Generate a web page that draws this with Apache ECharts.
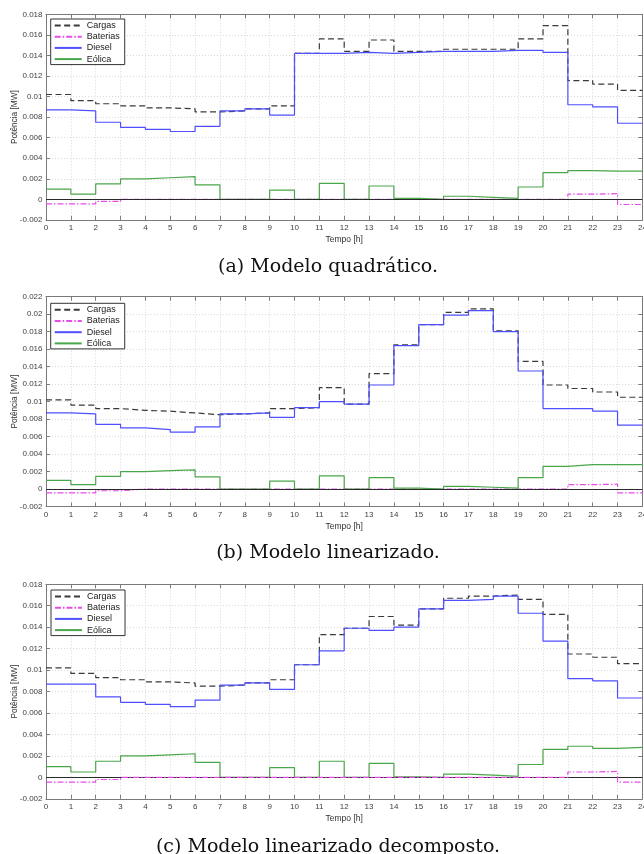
<!DOCTYPE html>
<html>
<head>
<meta charset="utf-8">
<script src="https://cdn.jsdelivr.net/npm/echarts@6/dist/echarts.min.js"></script>
<style>html,body{margin:0;padding:0;background:#fff}#c{width:644px;height:854px}</style>
</head>
<body>
<div id="c"></div>
<script>
// ---------- data ----------
const seriesNames = ['Cargas', 'Baterias', 'Diesel', 'Eólica'];
const captions = ['(a) Modelo quadrático.', '(b) Modelo linearizado.', '(c) Modelo linearizado decomposto.'];
const xTitle = 'Tempo [h]';
const yTitle = 'Potência [MW]';
const yMaxes = [0.018, 0.022, 0.018];

const cargasA   = [0.0102,0.0096,0.0093,0.0091,0.0089,0.0088,0.0085,0.0086,0.0088,0.0091,0.0142,0.0156,0.0144,0.0155,0.0144,0.0144,0.0146,0.0146,0.0146,0.0156,0.0169,0.01155,0.0112,0.0106];
const bateriasA = [-0.00045,-0.00045,-0.0002,0,0,0,0,0,0,0,0,0,0,0,0,0,0,0,0,0,0,0.0005,0.00055,-0.0005];
const dieselA   = [0.0087,0.0086,0.0075,0.0070,0.0068,0.0066,0.0071,0.0086,0.0088,0.0082,0.0142,0.0142,0.0143,0.0142,0.0143,0.0144,0.0144,0.0144,0.0145,0.0145,0.0143,0.0092,0.0090,0.0074];
const eolicaA   = [0.0010,0.0005,0.0015,0.0020,0.0021,0.0022,0.0014,0,0,0.0009,0,0.00155,0,0.0013,0.0001,0,0.0003,0.0002,0.0001,0.0012,0.0026,0.0028,0.00275,0.00275];

const cargasB   = [0.0102,0.0096,0.0092,0.0090,0.0089,0.0087,0.0085,0.0086,0.0087,0.0092,0.0093,0.0116,0.0097,0.0132,0.0165,0.0188,0.0202,0.0206,0.0181,0.0146,0.0119,0.0115,0.0111,0.0105];
const bateriasB = [-0.00045,-0.00045,-0.0002,0,0,0,0,0,0,0,0,0,0,0,0,0,0,0,0,0,0,0.0005,0.00055,-0.00045];
const dieselB   = [0.0087,0.0086,0.0074,0.0070,0.0068,0.0065,0.0071,0.0086,0.0087,0.0082,0.0093,0.0100,0.0097,0.0119,0.0164,0.0188,0.0199,0.0204,0.0180,0.0135,0.0092,0.0092,0.0089,0.0073];
const eolicaB   = [0.0010,0.0005,0.00145,0.0020,0.0021,0.0022,0.0014,0,0,0.0009,0,0.0015,0,0.0013,0.0001,0,0.0003,0.0002,0.0001,0.0013,0.0026,0.0028,0.0028,0.0028];

const cargasC   = [0.0102,0.0097,0.0093,0.0091,0.0089,0.0088,0.0085,0.0086,0.0088,0.0091,0.0105,0.0133,0.0139,0.0150,0.0142,0.0157,0.0167,0.0169,0.0170,0.0166,0.0152,0.0115,0.0112,0.0106];
const bateriasC = [-0.00045,-0.00045,-0.0002,0,0,0,0,0,0,0,0,0,0,0,0,0,0,0,0,0,0,0.0005,0.00055,-0.00045];
const dieselC   = [0.0087,0.0087,0.0075,0.0070,0.0068,0.0066,0.0072,0.0086,0.0088,0.0082,0.0105,0.0118,0.0139,0.0137,0.0140,0.0157,0.0165,0.0166,0.0169,0.0153,0.0127,0.0092,0.0090,0.0074];
const eolicaC   = [0.0010,0.0005,0.0015,0.0020,0.0021,0.0022,0.0014,0,0,0.0009,0,0.0015,0,0.0013,0.00005,0,0.0003,0.0002,0.0001,0.0012,0.0026,0.0029,0.0027,0.0028];

const panelsData = [
  [cargasA, bateriasA, dieselA, eolicaA],
  [cargasB, bateriasB, dieselB, eolicaB],
  [cargasC, bateriasC, dieselC, eolicaC]
];

// ---------- layout / style ----------
const grids = [
  {left: 46, top: 14.3, width: 596.4, height: 205.6},
  {left: 46, top: 296.7, width: 596.4, height: 209.8},
  {left: 46, top: 584.3, width: 596.4, height: 214.5}
];
const legendPos = [
  {left: 50.7, top: 19},
  {left: 50.7, top: 303.3},
  {left: 51, top: 590}
];
const captionY = [267, 553.5, 847];

const styles = [
  {color: '#3a3a3a', type: [6, 3.5]},
  {color: '#e84ce8', type: [6, 2, 1.5, 2]},
  {color: '#4f4fff', type: 'solid'},
  {color: '#4aa64a', type: 'solid'}
];
const frameColor = '#7a7a7a';
const sans = 'Liberation Sans, Arial, Helvetica, sans-serif';

function stepPairs(vals) {
  const out = vals.map((v, i) => [i, v]);
  out.push([vals.length, vals[vals.length - 1]]);
  return out;
}

const xAxis = [], yAxis = [], series = [], legend = [], graphic = [];

grids.forEach((g, p) => {
  xAxis.push({
    gridIndex: p, type: 'value', min: 0, max: 24, interval: 1, position: 'bottom',
    axisLine: {show: true, onZero: false, lineStyle: {color: frameColor, width: 1}},
    axisTick: {show: true, inside: true, length: 4, lineStyle: {color: frameColor}},
    axisLabel: {show: true, fontSize: 8, color: '#404040', margin: 4, fontFamily: sans},
    splitLine: {show: true, lineStyle: {color: '#d9d9d9', type: [1, 2], width: 1}},
    name: xTitle, nameLocation: 'middle', nameGap: 15.5, nameMoveOverlap: false,
    nameTextStyle: {fontSize: 8.5, color: '#303030', fontFamily: sans}
  });
  xAxis.push({
    gridIndex: p, type: 'value', min: 0, max: 24, interval: 1, position: 'top',
    axisLine: {show: true, onZero: false, lineStyle: {color: frameColor, width: 1}},
    axisTick: {show: true, inside: true, length: 4, lineStyle: {color: frameColor}},
    axisLabel: {show: false}, splitLine: {show: false}
  });
  yAxis.push({
    gridIndex: p, type: 'value', min: -0.002, max: yMaxes[p], interval: 0.002, position: 'left',
    axisLine: {show: true, onZero: false, lineStyle: {color: frameColor, width: 1}},
    axisTick: {show: true, inside: true, length: 4, lineStyle: {color: frameColor}},
    axisLabel: {show: true, fontSize: 8, color: '#404040', margin: 3.5, fontFamily: sans},
    splitLine: {show: true, lineStyle: {color: '#d9d9d9', type: [1, 2], width: 1}},
    name: yTitle, nameLocation: 'middle', nameGap: 27, nameRotate: 90, nameMoveOverlap: false,
    nameTextStyle: {fontSize: 8.3, color: '#303030', fontFamily: sans}
  });
  yAxis.push({
    gridIndex: p, type: 'value', min: -0.002, max: yMaxes[p], interval: 0.002, position: 'right',
    axisLine: {show: true, onZero: false, lineStyle: {color: frameColor, width: 1}},
    axisTick: {show: true, inside: true, length: 4, lineStyle: {color: frameColor}},
    axisLabel: {show: false}, splitLine: {show: false}
  });

  panelsData[p].forEach((vals, s) => {
    const st = styles[s];
    const ser = {
      name: seriesNames[s], type: 'line', xAxisIndex: p * 2, yAxisIndex: p * 2,
      step: 'end', symbol: 'none', data: stepPairs(vals),
      lineStyle: {color: st.color, type: st.type, width: 1.2},
      itemStyle: {color: st.color},
      z: (p === 2 && s === 1) ? 6 : 2,
      animation: false, silent: true
    };
    if (s === 3) {
      ser.markLine = {
        silent: true, symbol: 'none', label: {show: false}, animation: false,
        lineStyle: {color: '#2a2a2a', type: 'solid', width: 1},
        data: [{yAxis: 0}]
      };
    }
    series.push(ser);
  });

  legend.push({
    orient: 'vertical', left: legendPos[p].left, top: legendPos[p].top,
    data: seriesNames, itemWidth: 27, itemHeight: 10, itemGap: 2.2,
    padding: [2, 5, 1, 3], backgroundColor: '#fff', borderColor: '#333', borderWidth: 1,
    borderRadius: 0, selectedMode: false,
    itemStyle: {color: 'rgba(0,0,0,0)', borderWidth: 0, opacity: 0},
    textStyle: {fontSize: 9, color: '#1a1a1a', fontFamily: sans}
  });

  graphic.push({
    type: 'text', x: 328, y: captionY[p],
    style: {text: captions[p], font: '19px "DejaVu Serif", serif', fill: '#111',
            textAlign: 'center', textVerticalAlign: 'middle'}
  });
});

const chart = echarts.init(document.getElementById('c'), null, {renderer: 'canvas'});
chart.setOption({
  animation: false,
  backgroundColor: '#fff',
  grid: grids.map(g => Object.assign({containLabel: false, outerBoundsMode: 'none'}, g)),
  xAxis, yAxis, series, legend, graphic
});
</script>
</body>
</html>
